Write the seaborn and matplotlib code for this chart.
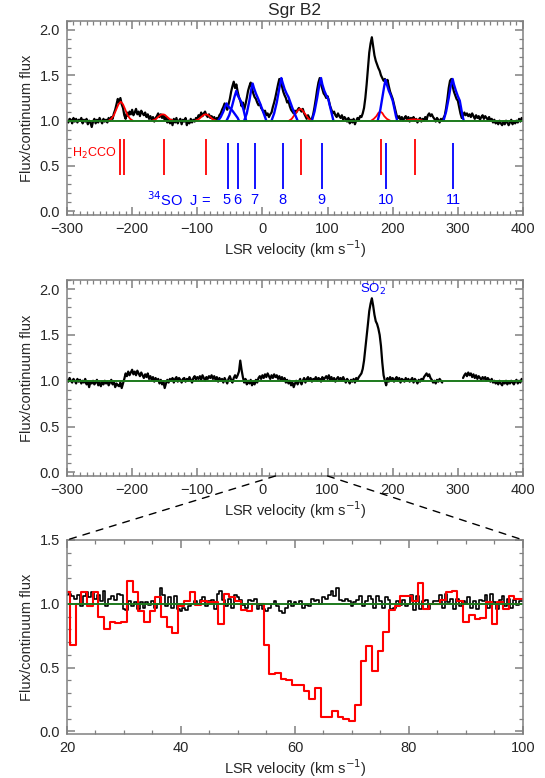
import numpy as np
import seaborn as sns
import matplotlib.pyplot as plt
from matplotlib.ticker import MultipleLocator, FormatStrFormatter
from matplotlib.patches import ConnectionPatch

# ---- top panel: observed spectrum, 2 km/s sampling from -300 to 400 ----
vel = np.arange(-300, 401, 2)
flux_obs = [
    1.00, 0.98, 1.02, 1.01, 0.97, 1.03, 0.99, 1.02, 0.98, 1.01,
    1.00, 1.03, 0.97, 1.01, 0.99, 1.02, 0.96, 1.00, 0.98, 0.93,
    0.99, 1.02, 0.97, 1.01, 0.98, 1.03, 1.00, 0.97, 1.02, 0.99,
    1.01, 0.98, 1.03, 1.00, 1.04, 1.02, 1.08, 1.12, 1.18, 1.24,
    1.20, 1.25, 1.18, 1.14, 1.06, 1.02, 1.09, 1.05, 1.10, 1.07,
    1.12, 1.06, 1.09, 1.13, 1.07, 1.10, 1.05, 1.11, 1.08, 1.06,
    1.09, 1.04, 1.07, 1.02, 1.05, 1.01, 1.04, 0.99, 1.03, 1.05,
    1.08, 1.04, 1.07, 1.03, 1.06, 1.01, 1.04, 0.98, 1.02, 0.97,
    1.01, 0.95, 1.02, 0.98, 1.03, 0.97, 1.00, 1.02, 0.96, 1.01,
    0.99, 1.03, 0.95, 1.00, 0.97, 1.02, 0.98, 1.01, 0.99, 1.03,
    1.02, 1.06, 1.04, 1.09, 1.05, 1.08, 1.10, 1.06, 1.04, 1.07,
    1.03, 1.05, 1.01, 1.04, 1.00, 1.03, 1.02, 1.06, 1.08, 1.12,
    1.15, 1.19, 1.16, 1.12, 1.18, 1.24, 1.32, 1.38, 1.43, 1.36,
    1.40, 1.32, 1.26, 1.22, 1.16, 1.20, 1.12, 1.18, 1.25, 1.33,
    1.38, 1.42, 1.36, 1.30, 1.26, 1.24, 1.20, 1.17, 1.19, 1.14,
    1.12, 1.09, 1.11, 1.06, 1.08, 1.04, 1.07, 1.09, 1.15, 1.20,
    1.26, 1.33, 1.40, 1.46, 1.42, 1.38, 1.32, 1.28, 1.25, 1.20,
    1.22, 1.16, 1.12, 1.10, 1.08, 1.11, 1.09, 1.12, 1.14, 1.12,
    1.10, 1.13, 1.08, 1.05, 1.02, 1.06, 1.03, 1.00, 1.02, 1.07,
    1.15, 1.24, 1.34, 1.42, 1.47, 1.40, 1.35, 1.30, 1.28, 1.25,
    1.27, 1.22, 1.16, 1.12, 1.08, 1.10, 1.06, 1.04, 1.08, 1.05,
    1.03, 1.06, 1.01, 1.04, 1.02, 0.99, 1.03, 0.97, 1.01, 0.98,
    1.02, 0.96, 1.00, 1.03, 1.01, 1.05, 1.04, 1.08, 1.14, 1.25,
    1.40, 1.58, 1.75, 1.85, 1.92, 1.82, 1.72, 1.66, 1.62, 1.58,
    1.55, 1.50, 1.47, 1.44, 1.46, 1.42, 1.45, 1.38, 1.32, 1.28,
    1.24, 1.18, 1.12, 1.06, 1.03, 1.05, 1.01, 1.04, 1.00, 1.03,
    1.05, 1.01, 1.04, 0.99, 1.03, 1.02, 1.04, 1.00, 1.02, 0.98,
    1.01, 1.03, 0.99, 1.02, 1.00, 1.04, 1.01, 1.06, 1.08, 1.05,
    1.07, 1.04, 1.02, 0.99, 1.03, 1.01, 0.98, 1.02, 1.00, 1.03,
    1.06, 1.14, 1.24, 1.36, 1.44, 1.46, 1.38, 1.32, 1.28, 1.24,
    1.22, 1.15, 1.08, 1.03, 1.05, 1.09, 1.06, 1.08, 1.05, 1.07,
    1.04, 1.08, 1.05, 1.02, 1.06, 1.03, 1.05, 1.01, 1.04, 1.06,
    1.02, 1.05, 1.03, 1.01, 1.04, 1.00, 1.02, 0.98, 1.01, 0.97,
    0.99, 0.96, 1.00, 0.97, 0.95, 0.99, 0.96, 1.00, 0.98, 0.95,
    0.98, 1.01, 0.96, 0.99, 0.97, 1.00, 0.98, 1.02, 0.99, 1.03,
    1.01,
]

# ---- middle panel: residual spectrum (nan = masked) ----
nan = np.nan
flux_res = [
    1.01, 0.99, 1.03, 1.00, 0.98, 1.02, 1.00, 0.97, 1.02, 0.99,
    1.01, 0.97, 1.00, 0.98, 1.02, 0.96, 0.99, 0.93, 0.99, 0.97,
    1.00, 0.96, 0.98, 1.01, 0.95, 0.98, 0.94, 0.99, 0.96, 1.00,
    0.97, 0.99, 0.95, 0.98, 1.01, 0.96, 0.99, 0.93, 0.97, 0.95,
    0.94, 0.98, 0.92, 0.97, 1.02, 1.08, 1.05, 1.10, 1.06, 1.09,
    1.12, 1.07, 1.10, 1.06, 1.11, 1.08, 1.05, 1.09, 1.06, 1.03,
    1.07, 1.04, 1.08, 1.02, 1.05, 1.01, 1.04, 0.99, 1.03, 1.00,
    1.02, 0.97, 1.01, 0.96, 0.99, 0.92, 0.97, 1.01, 0.98, 1.02,
    1.00, 1.03, 0.98, 1.02, 1.04, 0.99, 1.03, 1.01, 0.98, 1.02,
    1.03, 0.99, 1.02, 1.00, 1.04, 1.01, 0.98, 1.03, 1.05, 1.01,
    1.04, 1.02, 1.05, 1.01, 1.06, 1.03, 1.00, 1.04, 1.02, 1.05,
    1.03, 1.06, 1.02, 1.05, 1.01, 1.04, 0.99, 1.03, 1.00, 1.02,
    0.98, 1.03, 1.00, 0.97, 1.02, 1.05, 1.01, 0.98, 1.03, 1.06,
    1.03, 1.06, 1.10, 1.22, 1.12, 1.04, 0.98, 1.02, 0.96, 1.00,
    0.97, 1.01, 0.95, 0.99, 0.96, 1.01, 0.98, 1.03, 1.05, 1.02,
    1.06, 1.03, 1.07, 1.04, 1.08, 1.05, 1.02, 1.06, 1.03, 1.07,
    1.04, 1.06, 1.02, 1.05, 1.01, 1.04, 1.00, 1.03, 0.98, 1.01,
    0.97, 1.00, 0.95, 0.98, 0.93, 0.97, 1.00, 0.96, 0.99, 1.02,
    0.96, 1.00, 1.03, 0.98, 1.02, 1.04, 1.00, 1.03, 0.99, 1.02,
    1.01, 1.04, 1.00, 1.03, 1.02, 0.99, 1.04, 1.01, 1.03, 1.05,
    1.02, 1.06, 1.01, 1.04, 1.00, 1.03, 0.99, 1.02, 1.04, 1.01,
    1.03, 1.00, 1.04, 1.01, 0.98, 1.02, 1.00, 0.97, 1.01, 0.99,
    1.02, 0.98, 1.03, 1.01, 1.04, 1.06, 1.08, 1.13, 1.22, 1.35,
    1.48, 1.62, 1.76, 1.84, 1.90, 1.82, 1.72, 1.65, 1.62, 1.57,
    1.50, 1.38, 1.20, 1.06, 1.00, 0.95, 1.03, 0.99, 1.04, 1.01,
    1.03, 0.99, 1.02, 1.04, 1.00, 1.03, 0.98, 1.02, 1.01, 0.99,
    1.03, 1.00, 1.02, 0.99, 1.01, 1.03, 0.98, 1.02, 1.00, 0.97,
    1.01, 0.99, 1.02, 1.00, 1.04, 1.06, 1.08, 1.05, 1.07, 1.03,
    1.01, 0.98, 1.00, 0.97, 1.01, 0.99, 1.02, 1.00, 0.98, nan,
    nan, nan, nan, nan, nan, nan, nan, nan, nan, nan,
    nan, nan, nan, nan, 1.03, 1.06, 1.08, 1.05, 1.09, 1.06,
    1.08, 1.04, 1.07, 1.03, 1.06, 1.02, 1.05, 1.03, 1.01, 1.04,
    1.02, 1.04, 1.00, 1.03, 1.01, 0.99, 1.02, 0.98, 1.00, 0.97,
    0.99, 0.96, 1.00, 0.97, 0.95, 0.99, 0.97, 1.00, 0.96, 0.99,
    0.97, 1.00, 0.98, 0.96, 0.99, 1.01, 0.97, 1.00, 0.98, 1.02,
    1.00,
]

# ---- fitted H2CCO components (red) ----
h2cco_fits = [
    ([-236, -232, -228, -224, -221, -217.5, -214, -211, -207, -203, -199],
     [1.00, 1.02, 1.06, 1.13, 1.18, 1.21, 1.18, 1.13, 1.06, 1.02, 1.00]),
    ([-169, -164, -160, -156, -153, -150, -146, -142, -137],
     [1.00, 1.015, 1.04, 1.065, 1.07, 1.065, 1.04, 1.015, 1.00]),
    ([-103, -98, -94, -90, -87, -84, -80, -76, -71],
     [1.00, 1.015, 1.04, 1.065, 1.07, 1.065, 1.04, 1.015, 1.00]),
    ([41, 45, 49, 53, 56, 58, 60, 63, 67, 71, 76],
     [1.00, 1.02, 1.06, 1.10, 1.125, 1.13, 1.125, 1.10, 1.06, 1.02, 1.00]),
    ([167, 171, 175, 178, 181, 184, 187, 191, 196],
     [1.00, 1.02, 1.05, 1.085, 1.10, 1.085, 1.05, 1.02, 1.00]),
    ([220, 226, 233, 240, 246],
     [1.00, 1.01, 1.015, 1.01, 1.00]),
]

# ---- fitted 34SO components (blue) ----
so34_fits = [
    ([-68, -64, -60, -57, -55, -53, -50, -46, -42, -38, -36],
     [1.00, 1.04, 1.10, 1.16, 1.19, 1.16, 1.14, 1.11, 1.07, 1.03, 1.00]),
    ([-55, -51, -47, -43, -40, -38, -35, -32, -29, -27, -25],
     [1.00, 1.06, 1.15, 1.26, 1.33, 1.28, 1.24, 1.20, 1.12, 1.06, 1.00]),
    ([-28, -24, -20, -17, -15, -13, -10, -7, -3, 0, 3, 6],
     [1.00, 1.08, 1.22, 1.35, 1.41, 1.36, 1.30, 1.25, 1.18, 1.12, 1.06, 1.00]),
    ([14, 18, 22, 26, 29, 31, 34, 37, 40, 43, 46, 50, 54],
     [1.00, 1.08, 1.20, 1.36, 1.47, 1.42, 1.35, 1.30, 1.26, 1.20, 1.14, 1.07, 1.00]),
    ([76, 80, 84, 87, 90, 92, 95, 98, 101, 104, 107, 109],
     [1.00, 1.10, 1.25, 1.38, 1.47, 1.40, 1.33, 1.28, 1.24, 1.15, 1.06, 1.00]),
    ([177, 181, 184, 187, 189, 191, 194, 197, 200, 203, 205, 207],
     [1.00, 1.12, 1.25, 1.38, 1.45, 1.40, 1.33, 1.28, 1.22, 1.12, 1.05, 1.00]),
    ([278, 282, 286, 289, 292, 294, 297, 300, 303, 305, 307, 309],
     [1.00, 1.10, 1.25, 1.38, 1.46, 1.40, 1.33, 1.27, 1.22, 1.14, 1.06, 1.00]),
]

# line positions
h2cco_vel = [-219, -212, -151, -86, 60, 182, 234]
so34_vel = [-53, -38, -12, 31, 91, 190, 293]
so34_lab = ['5', '6', '7', '8', '9', '10', '11']

# ---- bottom panel: zoom 20-100 km/s ----
vel_zoom = np.arange(20, 100.01, 0.5)
flux_zoom = [
    1.07, 1.08, 1.06, 1.04, 1.07, 0.98, 1.06, 1.09, 1.05, 1.09,
    1.04, 1.07, 1.02, 1.10, 0.98, 1.04, 1.06, 1.03, 1.08, 1.07,
    0.96, 0.95, 1.02, 0.98, 1.01, 0.96, 1.01, 0.97, 1.01, 0.99,
    1.02, 0.97, 1.00, 1.12, 1.07, 0.98, 1.05, 0.97, 1.06, 0.96,
    0.94, 0.97, 0.95, 0.98, 1.00, 1.02, 0.99, 1.03, 1.05, 0.98,
    1.02, 1.03, 0.96, 1.08, 1.10, 1.03, 0.98, 1.04, 0.97, 1.07,
    1.05, 1.03, 0.99, 0.97, 1.03, 1.02, 1.04, 0.96, 0.99, 0.96,
    0.94, 0.97, 1.00, 1.02, 0.98, 0.94, 0.93, 0.97, 1.02, 0.98,
    1.01, 1.00, 1.02, 0.97, 0.99, 0.98, 1.04, 1.02, 1.03, 1.00,
    1.05, 1.04, 1.07, 1.10, 1.06, 1.12, 1.03, 1.02, 1.04, 1.02,
    0.98, 1.01, 1.03, 1.06, 0.98, 1.02, 1.06, 1.04, 0.97, 1.06,
    1.02, 0.97, 1.05, 1.03, 0.96, 0.97, 1.02, 0.99, 1.03, 0.98,
    1.00, 1.07, 0.95, 1.06, 0.96, 1.02, 1.03, 0.96, 1.00, 1.02,
    1.02, 1.07, 0.97, 1.08, 1.01, 1.04, 0.96, 1.04, 0.98, 1.02,
    1.00, 1.05, 0.97, 1.02, 0.96, 1.03, 1.02, 1.07, 0.97, 1.08,
    1.01, 0.96, 1.03, 1.06, 0.98, 1.04, 0.97, 1.03, 0.99, 1.02,
    1.02,
]
vel_zoom_red = np.arange(20, 101, 1)
flux_zoom_red = [
    1.09, 0.68, 1.00, 1.09, 0.98, 1.09, 0.90, 0.80, 0.86, 0.85,
    0.86, 1.18, 1.09, 0.94, 0.86, 0.94, 1.05, 0.90, 0.82, 0.77,
    0.98, 1.02, 1.09, 0.99, 1.02, 1.01, 1.01, 0.84, 1.08, 1.05,
    1.02, 0.95, 0.94, 1.00, 1.00, 0.68, 0.45, 0.46, 0.41, 0.40,
    0.36, 0.36, 0.32, 0.25, 0.34, 0.11, 0.11, 0.16, 0.11, 0.10,
    0.08, 0.21, 0.55, 0.67, 0.47, 0.63, 0.78, 0.95, 0.98, 1.06,
    1.06, 1.02, 1.16, 0.96, 1.00, 1.00, 1.03, 1.09, 1.10, 1.02,
    0.86, 0.91, 0.88, 0.89, 1.01, 0.84, 1.01, 0.96, 1.06, 1.04,
    1.04,
]

GREEN = '#1c7a1c'
FRAME = '0.5'

sns.set_style('ticks')
plt.rcParams['font.family'] = ['Liberation Sans', 'DejaVu Sans']
plt.rcParams['font.size'] = 10.5

fig = plt.figure(figsize=(5.45, 7.78), dpi=100)
ax1 = fig.add_axes([0.1229, 0.7237, 0.8367, 0.2494])
ax2 = fig.add_axes([0.1229, 0.3882, 0.8367, 0.2519])
ax3 = fig.add_axes([0.1229, 0.0566, 0.8367, 0.2494])


def style_axes(ax, xmaj, xmin, ymaj, ymin):
    ax.xaxis.set_major_locator(MultipleLocator(xmaj))
    ax.xaxis.set_minor_locator(MultipleLocator(xmin))
    ax.yaxis.set_major_locator(MultipleLocator(ymaj))
    ax.yaxis.set_minor_locator(MultipleLocator(ymin))
    ax.yaxis.set_major_formatter(FormatStrFormatter('%.1f'))
    ax.tick_params(which='both', direction='in', top=True, right=True,
                   color=FRAME, labelsize=10.5, pad=5)
    ax.tick_params(which='major', length=6, width=1.1)
    ax.tick_params(which='minor', length=3, width=0.9)
    for s in ax.spines.values():
        s.set_color(FRAME)
        s.set_linewidth(1.1)
    ax.set_ylabel('Flux/continuum flux', fontsize=10.5)
    ax.set_xlabel('LSR velocity (km s$^{-1}$)', fontsize=10.5, labelpad=2)


# top panel
sns.lineplot(x=vel, y=flux_obs, ax=ax1, color='black', lw=1.6,
             estimator=None, sort=False)
for fv, ff in h2cco_fits:
    sns.lineplot(x=fv, y=ff, ax=ax1, color='red', lw=1.3, estimator=None, sort=False)
for fv, ff in so34_fits:
    sns.lineplot(x=fv, y=ff, ax=ax1, color='blue', lw=1.7, estimator=None, sort=False)
ax1.axhline(1.0, color=GREEN, lw=1.4)
ax1.vlines(h2cco_vel, 0.40, 0.80, color='red', lw=1.3)
ax1.vlines(so34_vel, 0.25, 0.75, color='blue', lw=1.3)
ax1.text(-292, 0.64, 'H$_2$CCO', color='red', fontsize=9, va='center', ha='left')
ax1.text(-78, 0.13, '$^{34}$SO  J =', color='blue', fontsize=10.5, va='center', ha='right')
for v, lab in zip(so34_vel, so34_lab):
    off = -2 if lab == '5' else 0
    ax1.text(v + off, 0.13, lab, color='blue', fontsize=10.5, va='center', ha='center')
ax1.set_xlim(-300, 400)
ax1.set_ylim(-0.04, 2.1)
style_axes(ax1, 100, 10, 0.5, 0.1)
ax1.set_title('Sgr B2', fontsize=12.5, pad=4)

# middle panel
ax2.plot(vel, flux_res, color='black', lw=1.6)
ax2.axhline(1.0, color=GREEN, lw=1.4)
ax2.text(170, 2.0, 'SO$_2$', color='blue', fontsize=9.5, ha='center', va='center')
ax2.set_xlim(-300, 400)
ax2.set_ylim(-0.04, 2.1)
style_axes(ax2, 100, 10, 0.5, 0.1)

# bottom panel
sns.lineplot(x=vel_zoom, y=flux_zoom, ax=ax3, color='black', lw=1.2,
             estimator=None, sort=False, drawstyle='steps-mid')
sns.lineplot(x=vel_zoom_red, y=flux_zoom_red, ax=ax3, color='red', lw=1.5,
             estimator=None, sort=False, drawstyle='steps-mid')
ax3.axhline(1.0, color=GREEN, lw=1.4)
ax3.set_xlim(20, 100)
ax3.set_ylim(-0.02, 1.5)
style_axes(ax3, 20, 5, 0.5, 0.1)

# dashed zoom connectors
for xa, xb in [(20, 0), (100, 1)]:
    con = ConnectionPatch(xyA=(xa, -0.04), coordsA=ax2.transData,
                          xyB=(xb, 1), coordsB=ax3.transAxes,
                          color='black', lw=1, linestyle=(0, (5, 5)))
    fig.add_artist(con)

plt.savefig('out.png', dpi=100)
